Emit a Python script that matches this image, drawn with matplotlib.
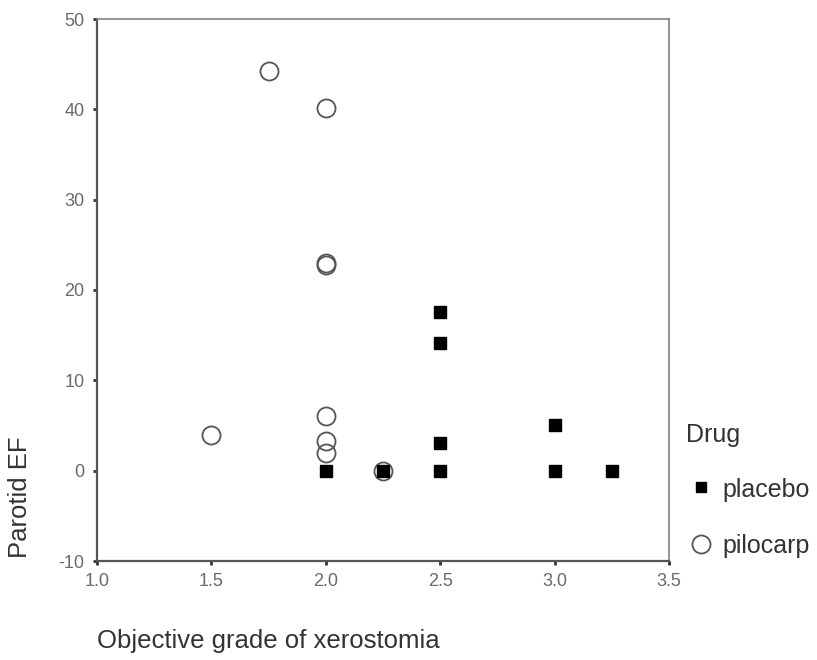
import matplotlib
matplotlib.use("Agg")
import matplotlib.pyplot as plt
from matplotlib.lines import Line2D

plt.rcParams['font.family'] = ['Liberation Sans', 'DejaVu Sans']

placebo_x = [2.0, 2.25, 2.5, 2.5, 2.5, 2.5, 3.0, 3.0, 3.25]
placebo_y = [0.0, 0.0, 17.6, 14.1, 3.1, 0.0, 5.0, 0.0, 0.0]

pilo_x = [1.5, 1.75, 2.0, 2.0, 2.0, 2.0, 2.0, 2.0, 2.25]
pilo_y = [4.0, 44.2, 40.1, 23.0, 22.8, 6.0, 3.3, 2.0, 0.0]

xticks = [1.0, 1.5, 2.0, 2.5, 3.0, 3.5]
yticks = [-10, 0, 10, 20, 30, 40, 50]

fig = plt.figure(figsize=(8.17, 6.6), dpi=100)
ax = fig.add_axes([97/817, 1-561/660, (669-97)/817, (561-19)/660])

ax.plot(pilo_x, pilo_y, linestyle='none', marker='o', markersize=13,
        markerfacecolor='none', markeredgecolor='#555555', markeredgewidth=1.3, zorder=3)
ax.plot(placebo_x, placebo_y, linestyle='none', marker='s', markersize=8,
        markerfacecolor='black', markeredgecolor='black', zorder=4)

ax.set_xlim(1.0, 3.5)
ax.set_ylim(-10, 50)
ax.set_xticks(xticks)
ax.set_xticklabels([f"{v:.1f}" for v in xticks])
ax.set_yticks(yticks)
ax.set_yticklabels([str(v) for v in yticks])
ax.tick_params(direction='out', length=3, width=2, colors='#333333',
               labelcolor='#6a6a6a', labelsize=13)
ax.tick_params(axis='x', pad=6)
ax.tick_params(axis='y', pad=6)

for s in ['left', 'bottom']:
    ax.spines[s].set_color('#555555')
    ax.spines[s].set_linewidth(1.6)
for s in ['top', 'right']:
    ax.spines[s].set_color('#808080')
    ax.spines[s].set_linewidth(1.2)

fig.text(97/817, 1-648/660, "Objective grade of xerostomia", fontsize=18.5,
         color='#333333', ha='left', va='baseline')
fig.text(20/817, 1-558/660, "Parotid EF", fontsize=18.5, rotation=90,
         color='#333333', ha='center', va='bottom')

fig.text(686/817, 1-442/660, "Drug", fontsize=18,
         color='#333333', ha='left', va='baseline')
fig.lines.append(Line2D([701/817], [1-487/660], transform=fig.transFigure, marker='s',
                        markersize=7, color='black', linestyle='none'))
fig.text(722/817, 1-497/660, "placebo", fontsize=18,
         color='#333333', ha='left', va='baseline')
fig.lines.append(Line2D([701/817], [1-544/660], transform=fig.transFigure, marker='o',
                        markersize=13, markerfacecolor='none', markeredgecolor='#555555',
                        markeredgewidth=1.3, linestyle='none'))
fig.text(722/817, 1-553/660, "pilocarp", fontsize=18,
         color='#333333', ha='left', va='baseline')

fig.savefig("out.png", dpi=100)
